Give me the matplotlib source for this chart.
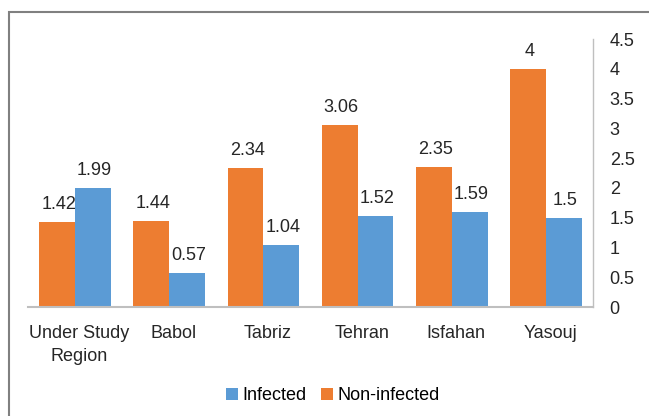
import matplotlib
matplotlib.use("Agg")
import matplotlib.pyplot as plt
import matplotlib.transforms as mtransforms
import numpy as np
from matplotlib.patches import Rectangle, Patch

categories = ["Under Study\nRegion", "Babol", "Tabriz", "Tehran", "Isfahan", "Yasouj"]
non_infected = [1.42, 1.44, 2.34, 3.06, 2.35, 4.0]
infected = [1.99, 0.57, 1.04, 1.52, 1.59, 1.5]
yticks = [0, 0.5, 1, 1.5, 2, 2.5, 3, 3.5, 4, 4.5]
ytick_labels = ["0", "0.5", "1", "1.5", "2", "2.5", "3", "3.5", "4", "4.5"]

ORANGE = "#ED7D31"
BLUE = "#5B9BD5"
GREY = "#BFBFBF"
FS = 13

plt.rcParams['font.family'] = ['Liberation Sans', 'DejaVu Sans']

fig = plt.figure(figsize=(6.49, 4.16), dpi=100)
ax = fig.add_axes([28/649, 1-307/416, (593-28)/649, (307-39)/416])

x = np.arange(len(categories))
w = 0.38
b1 = ax.bar(x - w/2, non_infected, w, color=ORANGE, label="Non-infected")
b2 = ax.bar(x + w/2, infected, w, color=BLUE, label="Infected")

for bars, vals in ((b1, non_infected), (b2, infected)):
    for rect, v in zip(bars, vals):
        lbl = f"{v:g}"
        ax.annotate(lbl, (rect.get_x() + rect.get_width()/2, rect.get_height()),
                    xytext=(1.2, 9.4), textcoords="offset points",
                    ha="center", va="baseline", fontsize=FS, color="#262626")

ax.set_xlim(-0.5, len(categories) - 0.5)
ax.set_ylim(0, 4.5)
ax.yaxis.tick_right()
ax.set_yticks(yticks)
ax.set_yticklabels(ytick_labels)
ax.set_xticks(x)
ax.set_xticklabels(categories, linespacing=1.43)
ax.tick_params(axis='y', length=0, pad=12, labelsize=FS, labelcolor="#262626")
for lbl in ax.get_yticklabels():
    lbl.set_horizontalalignment('left')
ax.tick_params(axis='x', length=0, pad=13, labelsize=FS, labelcolor="#262626")
shift = mtransforms.ScaledTranslation(4.5/100, 0, fig.dpi_scale_trans)
for lbl in ax.get_xticklabels():
    lbl.set_transform(lbl.get_transform() + shift)

for s in ("top", "left"):
    ax.spines[s].set_visible(False)
ax.spines["bottom"].set_color(GREY)
ax.spines["bottom"].set_linewidth(1.5)
ax.spines["right"].set_color(GREY)
ax.spines["right"].set_linewidth(1.0)

handles = [Patch(facecolor=BLUE, label="Infected"), Patch(facecolor=ORANGE, label="Non-infected")]
fig.legend(handles=handles, loc="center", bbox_to_anchor=(333/649, 1-396/416), ncol=2,
           frameon=False, fontsize=FS, handlelength=0.65, handleheight=0.65,
           handletextpad=0.25, columnspacing=0.8)

fig.patches.append(Rectangle((9/649, -0.1), 1.2, 1.1 - 12/416, transform=fig.transFigure,
                             fill=False, edgecolor="#808080", linewidth=1.5))

fig.savefig("out.png", dpi=100)
